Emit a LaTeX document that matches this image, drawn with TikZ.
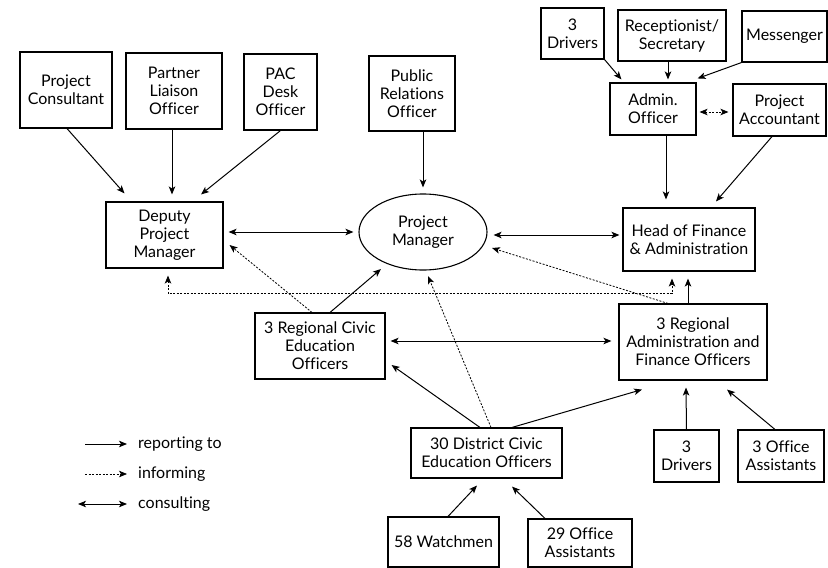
\documentclass[tikz,border=0pt]{standalone}
\usepackage{fontspec}
\setmainfont{Lato}[Ligatures={NoCommon}]
\usetikzlibrary{arrows.meta,shapes.geometric}
\begin{document}
\begin{tikzpicture}[x=1pt,y=-1pt,
  font=\fontsize{16}{18}\selectfont,
  box/.style={draw,line width=1.1pt,align=center,inner sep=0pt},
  rep/.style={line width=1pt,-{Stealth[length=8pt,width=6.5pt,inset=2pt]}},
  info/.style={line width=0.8pt,dash pattern=on 2pt off 1.5pt,-{Stealth[length=8pt,width=6.5pt,inset=2pt]}},
  infob/.style={line width=0.8pt,dash pattern=on 2pt off 1.5pt,{Stealth[length=8pt,width=6.5pt,inset=2pt]}-{Stealth[length=8pt,width=6.5pt,inset=2pt]}},
  cons/.style={line width=1pt,{Stealth[length=8pt,width=6.5pt,inset=2pt]}-{Stealth[length=8pt,width=6.5pt,inset=2pt]}}]
\useasboundingbox (0,0) rectangle (828,568);
% boxes
\node[box,minimum width=92pt,minimum height=76pt] (pc) at (66,90) {Project\\Consultant};
\node[box,minimum width=96pt,minimum height=76pt] (plo) at (174,91) {Partner\\Liaison\\Officer};
\node[box,minimum width=73pt,minimum height=76pt] (pac) at (280.5,92) {PAC\\Desk\\Officer};
\node[box,minimum width=86pt,minimum height=75pt] (pro) at (412,93.5) {Public\\Relations\\Officer};
\node[box,minimum width=117pt,minimum height=66pt] (dpm) at (164.5,235) {Deputy\\Project\\Manager};
\node[box,ellipse,minimum width=128pt,minimum height=76pt] (pm) at (423,232) {Project\\Manager};
\node[box,minimum width=63pt,minimum height=51pt] (drv1) at (572.5,33.5) {3\\Drivers};
\node[box,minimum width=108pt,minimum height=51pt] (rec) at (672,35.5) {Receptionist/\\Secretary};
\node[box,minimum width=85pt,minimum height=51pt] (mes) at (784.5,36.5) {Messenger};
\node[box,minimum width=86pt,minimum height=52pt] (adm) at (653,109) {Admin.\\Officer};
\node[box,minimum width=93pt,minimum height=52pt] (pa) at (779.5,110) {Project\\Accountant};
\node[box,minimum width=132pt,minimum height=63pt] (hfa) at (689,239.5) {Head of Finance\\\& Administration};
\node[box,minimum width=148pt,minimum height=76pt] (rafo) at (693,342) {3 Regional\\Administration and\\Finance Officers};
\node[box,minimum width=130pt,minimum height=66pt] (rceo) at (320,346) {3 Regional Civic\\Education\\Officers};
\node[box,minimum width=151pt,minimum height=50pt] (dceo) at (486.5,453) {30 District Civic\\Education Officers};
\node[box,minimum width=65pt,minimum height=52pt] (drv2) at (686.5,456) {3\\Drivers};
\node[box,minimum width=86pt,minimum height=52pt] (oa3) at (781,456) {3 Office\\Assistants};
\node[box,minimum width=111pt,minimum height=50pt] (w58) at (443.5,542) {58 Watchmen};
\node[box,minimum width=104pt,minimum height=48pt] (oa29) at (580,543) {29 Office\\Assistants};
% connectors
\draw[rep] ([xshift=1pt]pc.south) -- ([xshift=-40pt,yshift=8pt]dpm.north);
\draw[rep] ([xshift=-2pt]plo.south) -- ([xshift=7.5pt,yshift=7pt]dpm.north);
\draw[rep] (pac.south) -- ([xshift=36.5pt,yshift=7pt]dpm.north);
\draw[rep] ([xshift=11pt]pro.south) -- ([yshift=6pt]pm.north);
\draw[cons] ([xshift=5pt,yshift=3pt]dpm.east) -- ([xshift=-5pt]pm.west);
\draw[cons] ([xshift=6pt,yshift=-3pt]pm.east) -- ([xshift=-3pt,yshift=4.5pt]hfa.west);
\draw[rep] (drv1.south east) -- ([xshift=12pt,yshift=3pt]adm.north west);
\draw[rep] ([xshift=-4pt]rec.south) -- ([xshift=15pt,yshift=3pt]adm.north);
\draw[rep] (mes.south west) -- ([xshift=1pt,yshift=4pt]adm.north east);
\draw[infob] ([xshift=3pt,yshift=-3pt]adm.east) -- ([xshift=-4pt,yshift=-2pt]pa.west);
\draw[rep] ([xshift=13pt]adm.south) -- ([xshift=-23pt,yshift=8pt]hfa.north);
\draw[rep] ([xshift=-7.5pt]pa.south) -- ([xshift=27pt,yshift=6pt]hfa.north);
\draw[rep] ([xshift=-5pt]rafo.north) -- ([xshift=-1pt,yshift=-7pt]hfa.south);
\draw[infob] ([xshift=3.5pt,yshift=-7pt]dpm.south) -- ([xshift=3.5pt,yshift=-25pt]dpm.south) -| ([xshift=-17pt,yshift=-7pt]hfa.south);
\draw[info] ([xshift=-8pt]rceo.north) -- ([xshift=6pt,yshift=-10pt]dpm.east);
\draw[rep] ([xshift=10pt]rceo.north) -- ([xshift=-42pt,yshift=-37pt]pm.center);
\draw[info] ([xshift=-25pt]rafo.north) -- ([xshift=69pt,yshift=-16pt]pm.center);
\draw[cons] ([xshift=5pt,yshift=5pt]rceo.east) -- ([xshift=-7pt,yshift=1pt]rafo.west);
\draw[rep] ([xshift=-6.5pt]dceo.north) -- ([xshift=6pt,yshift=-19pt]rceo.east);
\draw[info] ([xshift=4.5pt]dceo.north) -- ([xshift=5pt,yshift=-44pt]pm.center);
\draw[rep] ([xshift=25.5pt]dceo.north) -- ([xshift=-51pt,yshift=-9pt]rafo.south);
\draw[rep] (drv2.north) -- ([xshift=-7pt,yshift=-7pt]rafo.south);
\draw[rep] ([xshift=-6pt]oa3.north) -- ([xshift=34pt,yshift=-9pt]rafo.south);
\draw[rep] ([xshift=4.5pt]w58.north) -- ([xshift=-9.5pt,yshift=-7pt]dceo.south);
\draw[rep] ([xshift=-35pt]oa29.north) -- ([xshift=25.5pt,yshift=-8pt]dceo.south);
% legend
\coordinate (l1a) at (85,444); \coordinate (l1b) at (127,444);
\coordinate (l2a) at (85,474); \coordinate (l2b) at (127,474);
\coordinate (l3a) at (78,504); \coordinate (l3b) at (127,504);
\draw[rep] (l1a) -- (l1b);
\draw[info] (l2a) -- (l2b);
\draw[cons] (l3a) -- (l3b);
\node[anchor=west,inner sep=0pt] (t1) at (138,444) {reporting to};
\node[anchor=west,inner sep=0pt] (t2) at (138,474) {informing};
\node[anchor=west,inner sep=0pt] (t3) at (138,504) {consulting};
\end{tikzpicture}
\end{document}
